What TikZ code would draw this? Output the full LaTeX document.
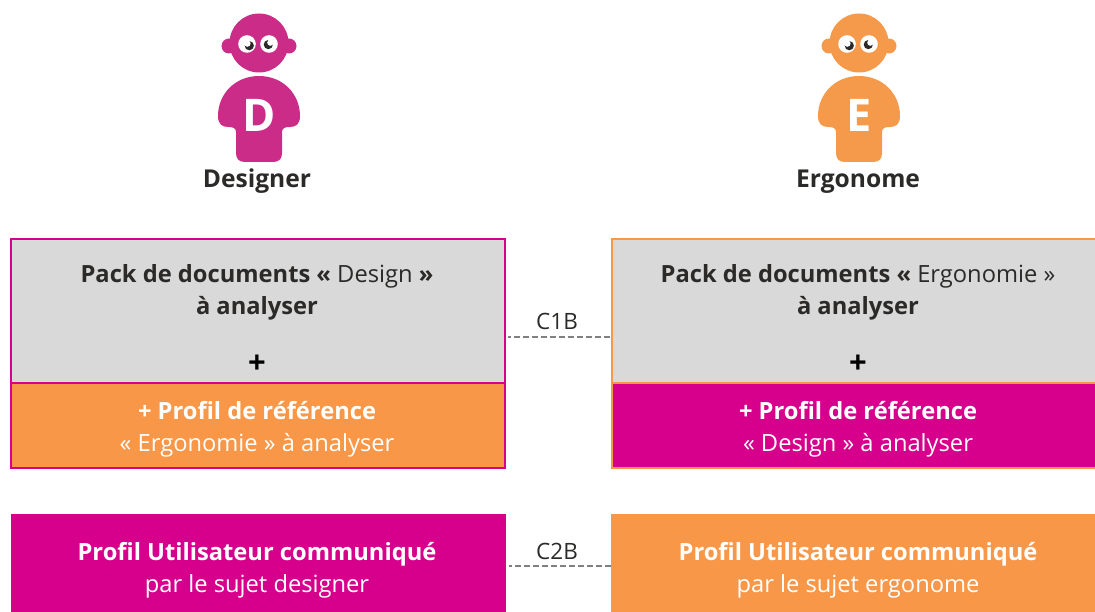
\documentclass[tikz,border=0pt]{standalone}
\usepackage{fontspec}
\setmainfont{Open Sans}
\usepackage{tikz}
\definecolor{magentabox}{HTML}{D6008C}
\definecolor{orangebox}{HTML}{F89748}
\definecolor{greybox}{HTML}{D9D9D9}
\definecolor{magentaman}{HTML}{CB2C88}
\definecolor{orangeman}{HTML}{F59A4B}
\definecolor{inktext}{HTML}{2B2A29}
\tikzset{
 box/.style={inner sep=0pt,outer sep=0pt,anchor=north west},
 boxtext/.style={inner sep=0pt,align=center,font=\fontsize{23.7}{32}\selectfont},
 title/.style={inner sep=0pt,anchor=base,text=inktext,font=\fontsize{24.6}{28}\selectfont\bfseries},
 plussign/.style={inner sep=0pt,text=black,font=\fontsize{31}{31}\selectfont\bfseries},
 link/.style={dash pattern=on 5.5pt off 3.5pt,dash phase=3pt,line width=1.3pt,color=black!50},
 linklabel/.style={inner sep=0pt,text=inktext,font=\fontsize{22.5}{26}\selectfont},
}
% small figure: #1 centre x, #2 colour, #3 letter, #4 name
\newcommand{\drawman}[4]{
 \begin{scope}[shift={(#1,0)}]
 \fill[#2] (0,43) circle (29.5); %head
 \fill[#2] (-30,46) circle (7.5); %ear
 \fill[#2] (30,46) circle (7.5); %ear
 \fill[white] (-12,44) circle (8.8);
 \fill[white] (10,44) circle (8.8);
 \fill[inktext] (-9.7,45.7) circle (4.6);
 \fill[inktext] (9.3,44.6) circle (4.6);
 \fill[white] (-11.6,43.6) circle (3.2);
 \fill[white] (11.4,42.6) circle (3.2);
 \fill[#2] (0,76) .. controls (24,76) and (41,94) .. (41,116)
  .. controls (41,124) and (37,127) .. (31,127)
  .. controls (26,127) and (23,128) .. (23,132)
  -- (23,153) .. controls (23,159) and (20,162) .. (14,162)
  -- (-14,162) .. controls (-20,162) and (-23,159) .. (-23,153)
  -- (-23,132) .. controls (-23,128) and (-26,127) .. (-31,127)
  .. controls (-37,127) and (-41,124) .. (-41,116)
  .. controls (-41,94) and (-24,76) .. (0,76) -- cycle; %body
 \node[inner sep=0pt,text=white,font=\fontsize{45}{45}\selectfont\bfseries] (#4) at (0,115) {#3};
 \end{scope}
}
\begin{document}
\begin{tikzpicture}[x=1pt,y=-1pt]
 \useasboundingbox (0,0) rectangle (1095,612);
 \drawman{259}{magentaman}{D}{letterd}
 \drawman{859}{orangeman}{E}{lettere}
 \node[title] (designer) at (257,188) {Designer};
 \node[title] (ergonome) at (858,188) {Ergonome};

 %left block
 \node[box,fill=greybox,minimum width=494pt,minimum height=144pt] (packd) at (11,239) {};
 \node[box,fill=orangebox,minimum width=494pt,minimum height=85pt] (profild) at (11,383) {};
 \draw[magentabox,line width=2pt] (packd.north west) rectangle (profild.south east);
 \draw[magentabox,line width=2pt] (profild.north west) -- (profild.north east);
 \node[boxtext,text=inktext] (packdtext) at (257,292) {\textbf{Pack de documents «} Design \textbf{»}\\\textbf{à analyser}};
 \node[plussign] (plusd) at (257,364) {+};
 \node[boxtext,text=white] (profildtext) at (257,429) {\textbf{+ Profil de référence}\\« Ergonomie » à analyser};

 %right block
 \node[box,fill=greybox,minimum width=484pt,minimum height=144pt] (packe) at (612,239) {};
 \node[box,fill=magentabox,minimum width=484pt,minimum height=85pt] (profile) at (612,383) {};
 \draw[orangebox,line width=2pt] (1096,239) -- (packe.north west) -- (profile.south west) -- (1096,468);
 \draw[orangebox,line width=2pt] (profile.north west) -- (profile.north east);
 \node[boxtext,text=inktext] (packetext) at (858,292) {\textbf{Pack de documents «} Ergonomie »\\\textbf{à analyser}};
 \node[plussign] (pluse) at (858,364) {+};
 \node[boxtext,text=white] (profiletext) at (858,429) {\textbf{+ Profil de référence}\\« Design » à analyser};

 %bottom boxes
 \node[box,fill=magentabox,minimum width=495pt,minimum height=98.5pt] (userd) at (11,513.5) {};
 \node[box,fill=orangebox,minimum width=484pt,minimum height=98.5pt] (usere) at (611,513.5) {};
 \node[boxtext,text=white] (userdtext) at (257,570) {\textbf{Profil Utilisateur communiqué}\\par le sujet designer};
 \node[boxtext,text=white] (useretext) at (858,570) {\textbf{Profil Utilisateur communiqué}\\par le sujet ergonome};

 %links
 \coordinate (cib) at (558,337);
 \coordinate (ciib) at (558,566);
 \draw[link] ([xshift=3pt]packd.east|-cib)--(packe.west|-cib);
 \draw[link] ([xshift=3pt]userd.east|-ciib)--(usere.west|-ciib);
 \node[linklabel] (cibtext) at (557,321) {C1B};
 \node[linklabel] (ciibtext) at (557,551) {C2B};
\end{tikzpicture}
\end{document}
